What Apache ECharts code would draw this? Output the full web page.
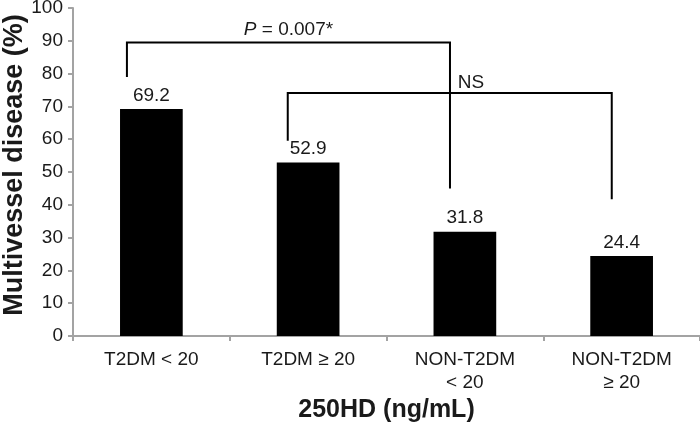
<!DOCTYPE html>
<html>
<head>
<meta charset="utf-8">
<title>Multivessel disease by 25OHD</title>
<script src="https://cdn.jsdelivr.net/npm/echarts@6/dist/echarts.min.js"></script>
<style>
  html, body { margin: 0; padding: 0; background: #fff; }
  #chart { width: 700px; height: 425px; }
</style>
</head>
<body>
<div id="chart"></div>
<script>
const categories = ['T2DM < 20', 'T2DM ≥ 20', 'NON-T2DM\n< 20', 'NON-T2DM\n≥ 20']
const values = [69.2, 52.9, 31.8, 24.4]

// significance brackets: category from / to, height of the top bar and the two leg ends (%)
const bracketFrom = [0, 1]
const bracketTo = [2, 3]
const bracketTop = [89.5, 74.1]
const bracketFromEnd = [79, 59.5]
const bracketToEnd = [45, 41.7]
const bracketText = ['{i|P} = 0.007*', 'NS']

const font = "'Liberation Sans', Arial, sans-serif"
const textColor = '#1a1a1a'
const axisColor = '#a3a3a3'

// leg offsets inside the band (fraction of band width), and where the label sits
const legOffset = [[-0.156, -0.095], [-0.13, -0.063]]
const labelPlace = [
  { at: 'mid', dx: 0, align: 'center', dy: -3 },
  { at: 2, dx: -0.046, align: 'left', dy: -0.5 }
]

const bracketData = bracketFrom.map((f, i) => [f, bracketTo[i], bracketTop[i], bracketFromEnd[i], bracketToEnd[i]])

const chart = echarts.init(document.getElementById('chart'))

const renderBracket = (params, api) => {
  const i = params.dataIndex
  const band = api.size([1, 0])[0]
  const x1 = api.coord([api.value(0), 0])[0] + legOffset[i][0] * band
  const x2 = api.coord([api.value(1), 0])[0] + legOffset[i][1] * band
  const yTop = api.coord([0, api.value(2)])[1]
  const y1 = api.coord([0, api.value(3)])[1]
  const y2 = api.coord([0, api.value(4)])[1]
  const place = labelPlace[i]
  const tx = place.at === 'mid'
    ? (x1 + x2) / 2
    : api.coord([place.at, 0])[0] + place.dx * band
  return {
    type: 'group',
    children: [
      {
        type: 'polyline',
        shape: { points: [[x1, y1], [x1, yTop], [x2, yTop], [x2, y2]] },
        style: { stroke: '#000', lineWidth: 2, fill: null }
      },
      {
        type: 'text',
        x: tx,
        y: yTop + place.dy,
        style: {
          text: bracketText[i],
          align: place.align,
          verticalAlign: 'bottom',
          fontFamily: font,
          fontSize: 19,
          fill: textColor,
          rich: {
            i: { fontStyle: 'italic', fontFamily: font, fontSize: 19, fill: textColor }
          }
        }
      }
    ]
  }
}

const option = {
  animation: false,
  grid: {
    left: 73,
    right: 0,
    top: 8,
    bottom: 89,
    containLabel: false,
    outerBoundsMode: 'none'
  },
  xAxis: {
    type: 'category',
    data: categories,
    name: '250HD (ng/mL)',
    nameLocation: 'middle',
    nameGap: 62,
    nameMoveOverlap: false,
    nameTextStyle: {
      fontFamily: font,
      fontSize: 25,
      fontWeight: 'bold',
      color: textColor
    },
    axisLine: { lineStyle: { color: axisColor, width: 2 } },
    axisTick: { show: true, length: 5, lineStyle: { color: axisColor, width: 2 } },
    axisLabel: {
      interval: 0,
      margin: 12,
      fontFamily: font,
      fontSize: 19,
      lineHeight: 23,
      color: textColor
    }
  },
  yAxis: {
    type: 'value',
    min: 0,
    max: 100,
    interval: 10,
    name: 'Multivessel disease (%)',
    nameLocation: 'middle',
    nameGap: 45,
    nameMoveOverlap: false,
    nameTextStyle: {
      fontFamily: font,
      fontSize: 27,
      fontWeight: 'bold',
      color: textColor,
      padding: [0, 0, 0, 14]
    },
    axisLine: { show: true, lineStyle: { color: axisColor, width: 2 } },
    axisTick: { show: true, length: 5, lineStyle: { color: axisColor, width: 2 } },
    axisLabel: {
      margin: 10,
      fontFamily: font,
      fontSize: 19,
      color: textColor
    },
    splitLine: { show: false }
  },
  series: [
    {
      type: 'bar',
      data: values,
      barWidth: '40%',
      itemStyle: { color: '#000' },
      label: {
        show: true,
        position: 'top',
        distance: 4,
        fontFamily: font,
        fontSize: 19,
        color: textColor
      }
    },
    {
      type: 'custom',
      data: bracketData,
      encode: { x: [0, 1], y: [2, 3, 4] },
      clip: false,
      z: 5,
      renderItem: renderBracket
    }
  ]
}

chart.setOption(option)
</script>
</body>
</html>
